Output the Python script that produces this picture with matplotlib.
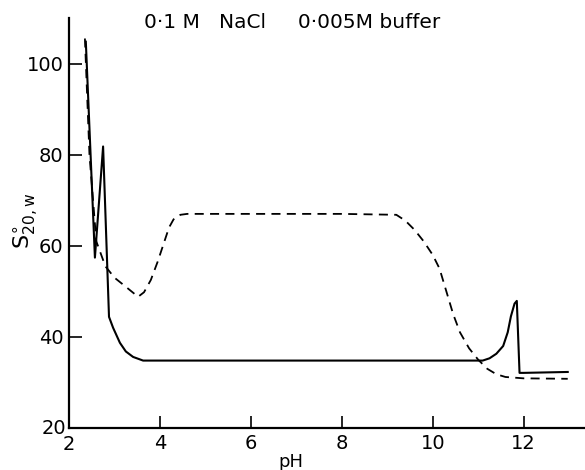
import matplotlib.pyplot as plt

# 0.1 M NaCl (solid)
ph_nacl = [2.37, 2.57, 2.75, 2.88, 2.97, 3.12, 3.25, 3.41, 3.63, 6.0, 9.0, 11.1,
           11.25, 11.4, 11.55, 11.65, 11.72, 11.8, 11.85, 11.91, 12.0, 12.97]
s_nacl = [104.8, 57.4, 81.8, 44.4, 42.0, 38.7, 36.8, 35.6, 34.8, 34.8, 34.8, 34.8,
          35.3, 36.3, 38.0, 41.0, 44.5, 47.3, 47.9, 32.1, 32.1, 32.3]

# 0.005 M buffer (dashed)
ph_buf = [2.35, 2.45, 2.6, 2.8, 3.0, 3.25, 3.52, 3.65, 3.8, 3.95, 4.1, 4.2, 4.3, 4.45,
          4.6, 6.0, 8.0, 9.2, 9.4, 9.6, 9.8, 10.0, 10.15, 10.3, 10.45, 10.6, 10.8, 11.0,
          11.2, 11.4, 11.6, 12.0, 12.97]
s_buf = [105.5, 80.0, 61.0, 55.5, 53.0, 51.0, 48.8, 49.8, 52.5, 56.5, 61.0, 64.0, 65.8,
         66.8, 67.0, 67.0, 67.0, 66.8, 65.5, 63.5, 61.0, 58.0, 55.0, 50.0, 45.0, 41.0,
         37.5, 35.0, 33.0, 31.8, 31.2, 30.9, 30.8]

xticks = [4, 6, 8, 10, 12]
yticks = [40, 60, 80, 100]

fig = plt.figure(figsize=(5.85, 4.7), dpi=100)
ax = fig.add_axes((69 / 585, 42 / 470, 1 - 69 / 585, (428 - 18) / 470))
ax.spines[['top', 'right']].set_visible(False)
ax.spines[['left', 'bottom']].set_linewidth(1.6)

ax.plot(ph_nacl, s_nacl, color='black', lw=1.5)
ax.plot(ph_buf, s_buf, color='black', lw=1.3, ls=(0, (5, 3.5)))

ax.set_xlim(2, 13.35)
ax.set_ylim(20, 110)
ax.set_xticks(xticks)
ax.set_yticks(yticks)
ax.tick_params(direction='in', length=9, width=1.2, labelsize=14, pad=4)

# corner labels sit outside the tick set
ax.text(2, 18.4, '2', ha='center', va='top', fontsize=14, clip_on=False)
ax.text(1.93, 20, '20', ha='right', va='center', fontsize=14, clip_on=False)

fig.text(0.50, 0.953, '0·1 M   NaCl     0·005M buffer', ha='center', va='center', fontsize=14.5)
fig.text(0.497, 0.018, 'pH', ha='center', va='center', fontsize=13)
fig.text(0.045, 0.53, r'$\mathrm{S}^{\circ}_{\mathrm{20,w}}$', ha='center', va='center',
         fontsize=16, rotation=90)

fig.savefig('out.png', dpi=100)
